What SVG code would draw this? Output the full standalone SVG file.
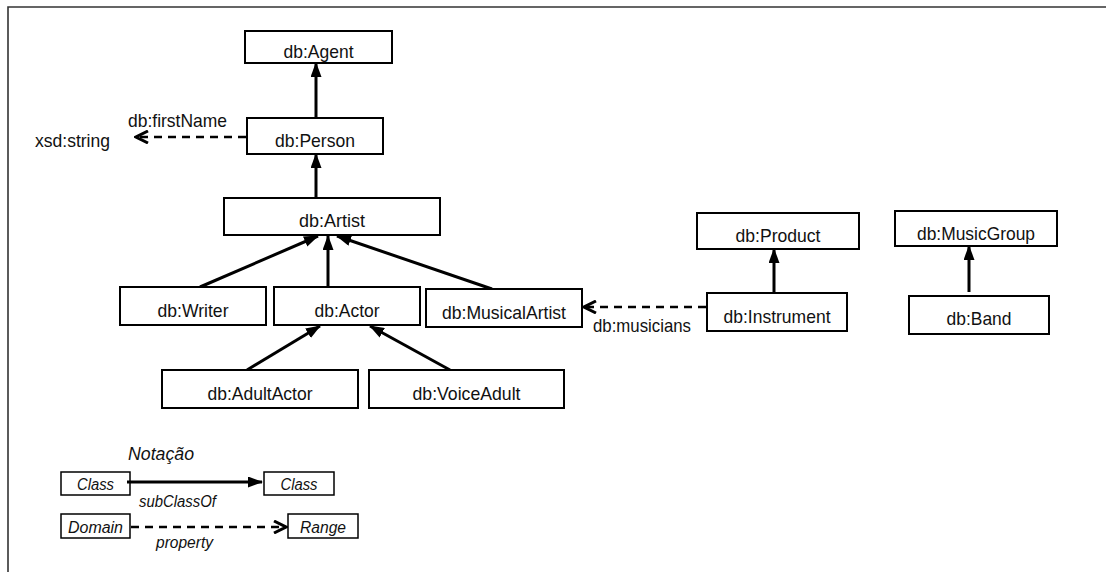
<svg xmlns="http://www.w3.org/2000/svg" width="1106" height="572" viewBox="0 0 1106 572">
  <style>
    .node rect { fill: #ffffff; stroke: #000000; stroke-width: 2; }
    .node text { font-family: "Liberation Sans", Arial, sans-serif; font-size: 19px; fill: #111111; text-anchor: middle; }
    .lbl { font-family: "Liberation Sans", Arial, sans-serif; font-size: 19px; fill: #111111; }
    .legend rect { fill: #ffffff; stroke: #000000; stroke-width: 1.5; }
    .legend text { font-family: "Liberation Sans", Arial, sans-serif; font-size: 16px; font-style: italic; fill: #111111; }
    .sub { stroke: #000000; stroke-width: 3; fill: none; marker-end: url(#tri); }
    .prop { stroke: #000000; stroke-width: 2.5; fill: none; stroke-dasharray: 8 6; marker-end: url(#chev); }
  </style>
  <defs>
    <marker id="tri" markerUnits="userSpaceOnUse" markerWidth="15" markerHeight="11" refX="14" refY="5.5" orient="auto" viewBox="0 0 15 11">
      <path d="M0,0 L15,5.5 L0,11 z" fill="#000000"/>
    </marker>
    <marker id="chev" markerUnits="userSpaceOnUse" markerWidth="16" markerHeight="14" refX="14" refY="7" orient="auto" viewBox="0 0 16 14">
      <path d="M2,1 L14,7 L2,13" fill="none" stroke="#000000" stroke-width="3"/>
    </marker>
  </defs>

  <!-- frame -->
  <path d="M8,572 L8,7 L1106,7" fill="none" stroke="#333333" stroke-width="1.6"/>

  <!-- connectors -->
  <g id="connectors">
    <line class="sub" x1="316" y1="118" x2="316" y2="63"/>
    <line class="sub" x1="316" y1="198" x2="316" y2="154"/>
    <line class="sub" x1="200" y1="287" x2="318" y2="236"/>
    <line class="sub" x1="328" y1="287" x2="328" y2="236"/>
    <line class="sub" x1="492" y1="289" x2="337" y2="236"/>
    <line class="sub" x1="247" y1="370" x2="320" y2="326"/>
    <line class="sub" x1="450" y1="370" x2="370" y2="326"/>
    <line class="sub" x1="774" y1="293" x2="774" y2="249"/>
    <line class="sub" x1="969" y1="292" x2="969" y2="246"/>
    <line class="prop" x1="246" y1="137" x2="136" y2="137"/>
    <line class="prop" x1="706" y1="307" x2="584" y2="307"/>
    <text class="lbl" x="128" y="127" textLength="99" lengthAdjust="spacingAndGlyphs">db:firstName</text>
    <text class="lbl" x="35" y="147" textLength="75" lengthAdjust="spacingAndGlyphs">xsd:string</text>
    <text class="lbl" x="593" y="332" textLength="98" lengthAdjust="spacingAndGlyphs">db:musicians</text>
  </g>

  <!-- class nodes -->
  <g id="agent" class="node"><rect x="245" y="31" width="147" height="32"/><text x="318.5" y="58" textLength="70" lengthAdjust="spacingAndGlyphs">db:Agent</text></g>
  <g id="person" class="node"><rect x="247" y="118" width="136" height="36"/><text x="315" y="147" textLength="80" lengthAdjust="spacingAndGlyphs">db:Person</text></g>
  <g id="artist" class="node"><rect x="224" y="198" width="216" height="37"/><text x="332" y="227" textLength="66" lengthAdjust="spacingAndGlyphs">db:Artist</text></g>
  <g id="writer" class="node"><rect x="120" y="287" width="146" height="38"/><text x="193" y="317" textLength="71" lengthAdjust="spacingAndGlyphs">db:Writer</text></g>
  <g id="actor" class="node"><rect x="274" y="287" width="146" height="38"/><text x="347" y="317" textLength="65" lengthAdjust="spacingAndGlyphs">db:Actor</text></g>
  <g id="musicalartist" class="node"><rect x="426" y="289" width="156" height="38"/><text x="504" y="319" textLength="124" lengthAdjust="spacingAndGlyphs">db:MusicalArtist</text></g>
  <g id="adultactor" class="node"><rect x="162" y="370" width="196" height="38"/><text x="260" y="400" textLength="105" lengthAdjust="spacingAndGlyphs">db:AdultActor</text></g>
  <g id="voiceadult" class="node"><rect x="369" y="370" width="195" height="38"/><text x="466.5" y="400" textLength="108" lengthAdjust="spacingAndGlyphs">db:VoiceAdult</text></g>
  <g id="product" class="node"><rect x="697" y="213" width="162" height="36"/><text x="778" y="242" textLength="85" lengthAdjust="spacingAndGlyphs">db:Product</text></g>
  <g id="instrument" class="node"><rect x="707" y="293" width="140" height="38"/><text x="777" y="323" textLength="107" lengthAdjust="spacingAndGlyphs">db:Instrument</text></g>
  <g id="musicgroup" class="node"><rect x="895" y="211" width="162" height="35"/><text x="976" y="240" textLength="118" lengthAdjust="spacingAndGlyphs">db:MusicGroup</text></g>
  <g id="band" class="node"><rect x="909" y="296" width="140" height="38"/><text x="979" y="325" textLength="65" lengthAdjust="spacingAndGlyphs">db:Band</text></g>

  <!-- notation key -->
  <g id="legend" class="legend">
    <text x="128" y="460" style="font-size:18px" textLength="66" lengthAdjust="spacingAndGlyphs">Notação</text>
    <rect x="61" y="472" width="69" height="23"/>
    <text x="95.5" y="490" text-anchor="middle" textLength="37" lengthAdjust="spacingAndGlyphs">Class</text>
    <rect x="264" y="472" width="70" height="23"/>
    <text x="299" y="490" text-anchor="middle" textLength="37" lengthAdjust="spacingAndGlyphs">Class</text>
    <line class="sub" x1="127" y1="482" x2="262" y2="482"/>
    <text x="139" y="507" textLength="77" lengthAdjust="spacingAndGlyphs">subClassOf</text>
    <rect x="61" y="514" width="69" height="24"/>
    <text x="95.5" y="533" text-anchor="middle" textLength="55" lengthAdjust="spacingAndGlyphs">Domain</text>
    <rect x="288" y="514" width="70" height="24"/>
    <text x="323" y="533" text-anchor="middle" textLength="46" lengthAdjust="spacingAndGlyphs">Range</text>
    <line class="prop" x1="131" y1="527" x2="286" y2="527"/>
    <text x="156" y="548" textLength="57" lengthAdjust="spacingAndGlyphs">property</text>
  </g>
</svg>
